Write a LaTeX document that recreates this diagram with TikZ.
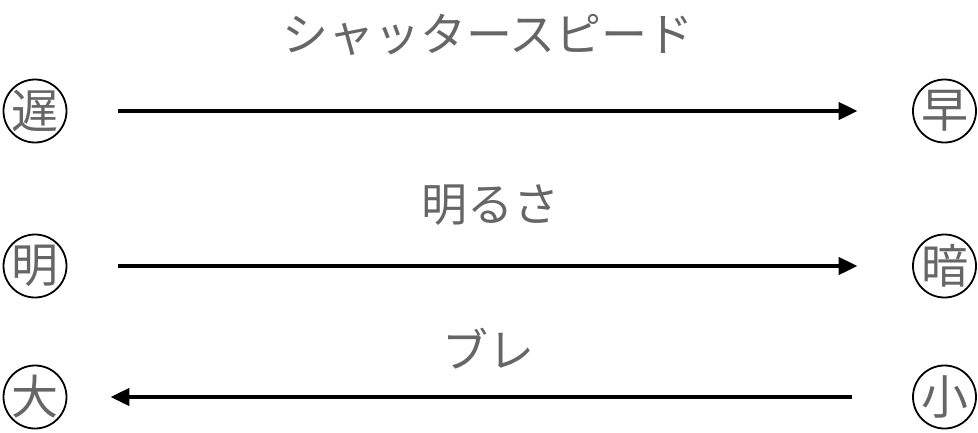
\documentclass[tikz,border=0pt]{standalone}
\usepackage{fontspec}
\setmainfont{Noto Sans CJK JP}
\usetikzlibrary{arrows.meta}
\definecolor{txtgray}{HTML}{666666}

\begin{document}
\begin{tikzpicture} [x=1pt, y=-1pt,
  endmark/.style={circle, draw=black, line width=1.8pt, minimum size=63pt, inner sep=-10pt,
    text=txtgray, font=\fontsize{47}{47}\selectfont},
  title/.style={text=txtgray, font=\fontsize{46}{46}\selectfont, inner sep=0},
  bar/.style={black, line width=4.2pt, -{Triangle[length=19pt, width=17pt]}}]
\useasboundingbox (0,0) rectangle (978,432);
% rows
\node[endmark] (slow) at (35,111) {遅};
\node[endmark] (fast) at (944.5,111) {早};
\node[endmark] (bright) at (35,266) {明};
\node[endmark] (dark) at (944.5,266) {暗};
\node[endmark] (big) at (35,397) {大};
\node[endmark] (small) at (944.5,397) {小};
% arrows
\draw[bar, shorten <=51pt, shorten >=54.5pt] (slow) -- (fast);
\draw[bar, shorten <=51pt, shorten >=54.5pt] (bright) -- (dark);
\draw[bar, shorten <=60pt, shorten >=43pt] (small) -- (big);
% labels
\node[title] (speed) at (488,35) {シャッタースピード};
\node[title] (light) at (490,205) {明るさ};
\node[title] (shake) at (488,349) {ブレ};
\end{tikzpicture}
\end{document}
